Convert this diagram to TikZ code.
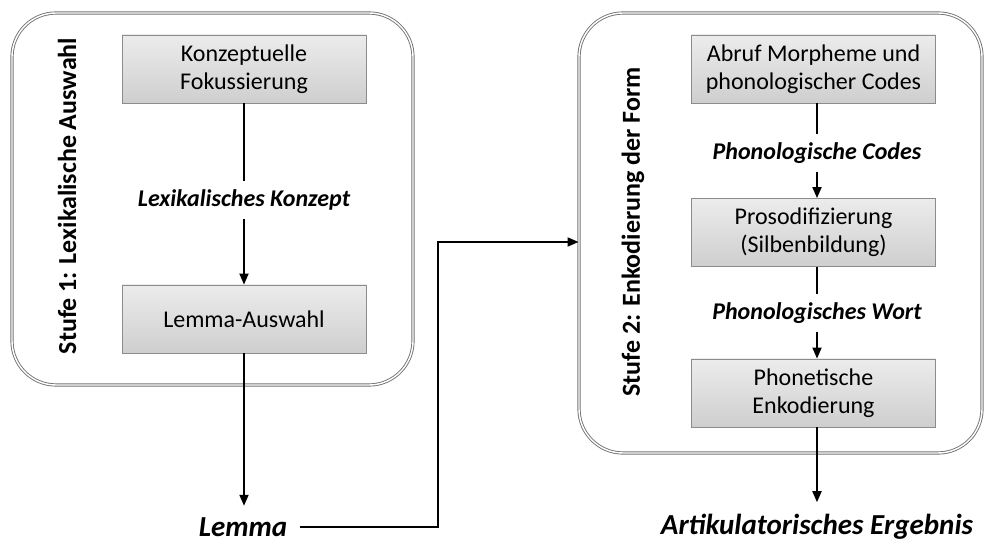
\documentclass[tikz,border=0pt]{standalone}
\usepackage{fontspec}
\setmainfont{Carlito}
\usetikzlibrary{positioning,arrows.meta}

\begin{document}
\begin{tikzpicture}[x=0.5pt, y=-0.5pt, ->, >={Triangle[length=5.5pt,width=4.5pt]},
  every edge/.append style={line width=0.9pt},
  stagebox/.style={draw=black!55, double=white, double distance=0.7pt, line width=0.45pt, rounded corners=22pt},
  proc/.style={draw=gray!90, top color=gray!15, bottom color=gray!38, minimum width=122pt, minimum height=34pt, align=center, inner sep=2pt, font=\fontsize{12}{13.8}\selectfont},
  flow/.style={inner sep=1pt, minimum height=19pt, font=\bfseries\itshape\fontsize{12}{14}\selectfont},
  result/.style={anchor=base, inner xsep=2pt, inner ysep=5.5pt, font=\bfseries\itshape\fontsize{14.5}{16}\selectfont},
  stagetext/.style={rotate=90, font=\bfseries\fontsize{13}{15}\selectfont}]

\useasboundingbox (0,0) rectangle (984,544);

% stage frames
\node[stagebox, minimum width=200.5pt, minimum height=186pt] (stufe1) at (212.5,199) {};
\node[stagebox, minimum width=201.5pt, minimum height=220pt] (stufe2) at (780.5,233) {};
\node[stagetext] (s1text) at (67,196) {Stufe 1: Lexikalische Auswahl};
\node[stagetext] (s2text) at (633,232) {Stufe 2: Enkodierung der Form};

% stage 1
\node[proc] (konz) at (244,69) {Konzeptuelle\\Fokussierung};
\node[proc] (lemsel) at (244,319) {Lemma-Auswahl};
\node[flow] (lexk) at (244,200) {Lexikalisches Konzept};
\node[result] (lemma) at (243,536) {Lemma};

% stage 2
\node[proc] (abruf) at (813.5,69) {Abruf Morpheme und\\phonologischer Codes};
\node[proc] (proso) at (813.5,232.5) {Prosodifizierung\\(Silbenbildung)};
\node[proc] (phonet) at (813.5,393) {Phonetische\\Enkodierung};
\node[flow] (phcodes) at (817,153) {Phonologische Codes};
\node[flow] (phwort) at (817,313) {Phonologisches Wort};
\node[result] (ergebnis) at (817,534) {Artikulatorisches Ergebnis};

\coordinate (knick) at (438,242);

\path
    (konz) edge[-] (lexk)
    (lexk) edge (lemsel)
    (lemsel) edge (lemsel |- lemma.north)
    (abruf.south -| phcodes) edge[-] (phcodes)
    (phcodes) edge (proso.north -| phcodes)
    (proso.south -| phwort) edge[-] (phwort)
    (phwort) edge (phonet.north -| phwort)
    (phonet.south -| phwort) edge (phwort |- ergebnis.north);
\draw[line width=0.9pt] ([xshift=4pt]lemma.east) -| (knick) -- (knick -| stufe2.west);
\end{tikzpicture}
\end{document}
